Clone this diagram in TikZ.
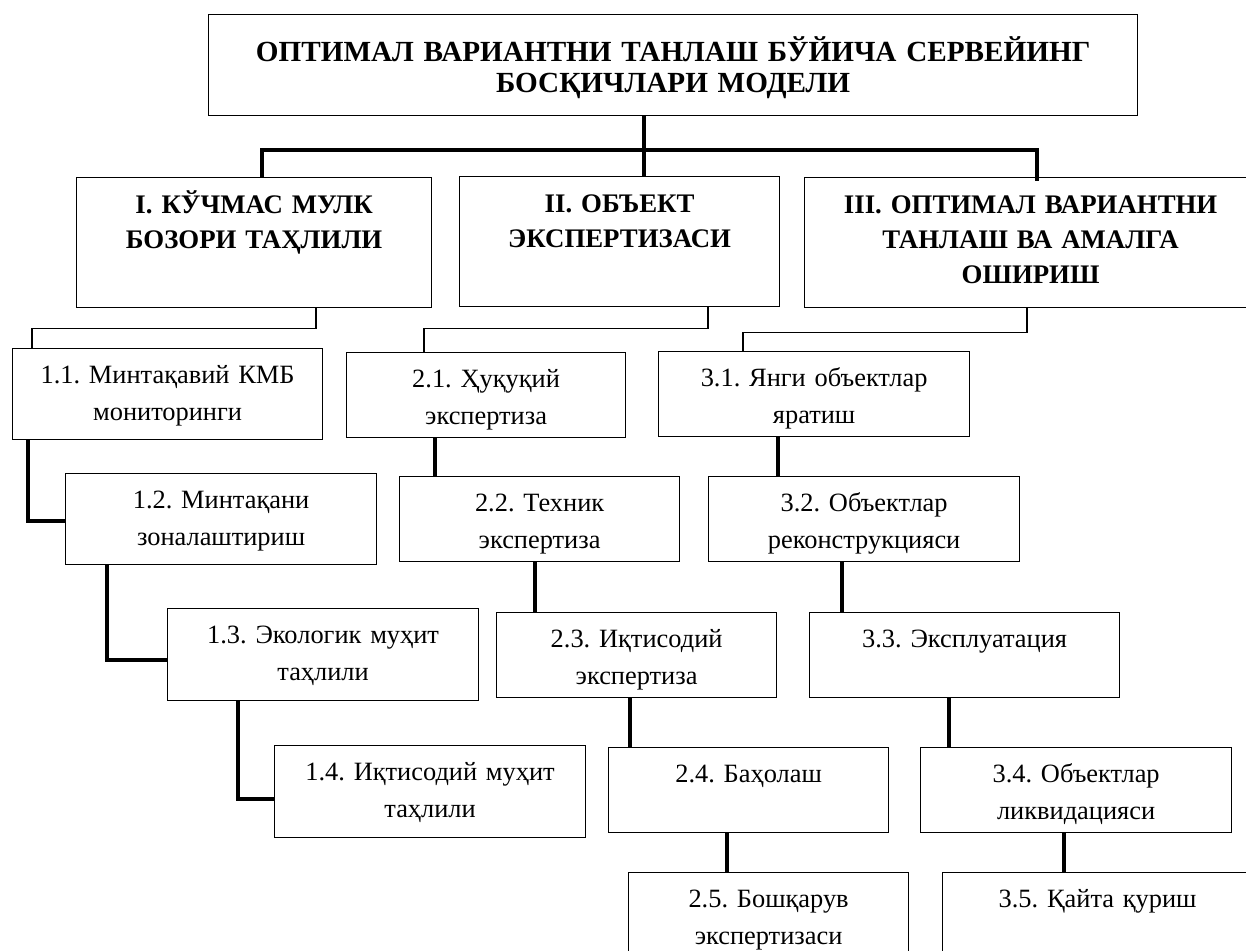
\documentclass[tikz,border=0pt]{standalone}
\usepackage{fontspec}
\setmainfont{Liberation Serif}
\frenchspacing
\begin{document}
\begin{tikzpicture}[x=0.5pt, y=-0.5pt,
    cellbox/.style={draw, line width=0.6pt, anchor=north west, inner sep=0pt, align=center},
    titlebox/.style={cellbox, font=\bfseries\fontsize{14.6}{15.5}\selectfont, text height=23.5pt},
    phasebox/.style={cellbox, font=\bfseries\fontsize{13.4}{17.5}\selectfont, text height=18pt, text depth=47pt},
    stagebox/.style={cellbox, font=\fontsize{13.2}{18.5}\selectfont, text height=17.5pt, text depth=25pt},
    bracket/.style={line width=0.6pt},
    tree/.style={line width=1.8pt},
    link/.style={line width=2pt}]
    \useasboundingbox (0,0) rectangle (1246,951);

    % Model title
    \node[titlebox, text width=464.5pt, text depth=27pt] (model) at (208,14)
        {ОПТИМАЛ ВАРИАНТНИ ТАНЛАШ БЎЙИЧА СЕРВЕЙИНГ\\БОСҚИЧЛАРИ МОДЕЛИ};

    % Phases
    \node[phasebox, text width=177.5pt] (ph1) at (76,177) {I. КЎЧМАС МУЛК\\БОЗОРИ ТАҲЛИЛИ};
    \node[phasebox, text width=160pt] (ph2) at (459,176) {II. ОБЪЕКТ\\ЭКСПЕРТИЗАСИ};
    \node[phasebox, text width=226pt] (ph3) at (804,177) {III. ОПТИМАЛ ВАРИАНТНИ\\ТАНЛАШ ВА АМАЛГА\\ОШИРИШ};

    % Stages of phase I
    \node[stagebox, text width=155pt, text depth=28pt] (st11) at (12,348) {1.1. Минтақавий КМБ\\мониторинги};
    \node[stagebox, text width=155.5pt, text depth=28pt] (st12) at (65,473) {1.2. Минтақани\\зоналаштириш};
    \node[stagebox, text width=155.5pt, text depth=28.5pt] (st13) at (167,608) {1.3. Экологик муҳит\\таҳлили};
    \node[stagebox, text width=155.5pt, text depth=28.5pt] (st14) at (274,745) {1.4. Иқтисодий муҳит\\таҳлили};

    % Stages of phase II
    \node[stagebox, text width=139.5pt] (st21) at (346,352) {2.1. Ҳуқуқий\\экспертиза};
    \node[stagebox, text width=140pt] (st22) at (399,476) {2.2. Техник\\экспертиза};
    \node[stagebox, text width=140pt] (st23) at (496,612) {2.3. Иқтисодий\\экспертиза};
    \node[stagebox, text width=140pt] (st24) at (608,747) {2.4. Баҳолаш};
    \node[stagebox, text width=140pt] (st25) at (628,872) {2.5. Бошқарув\\экспертизаси};

    % Stages of phase III
    \node[stagebox, text width=155.5pt] (st31) at (658,351) {3.1. Янги объектлар\\яратиш};
    \node[stagebox, text width=155.5pt] (st32) at (708,476) {3.2. Объектлар\\реконструкцияси};
    \node[stagebox, text width=155pt] (st33) at (809,612) {3.3. Эксплуатация};
    \node[stagebox, text width=155.5pt] (st34) at (920,747) {3.4. Объектлар\\ликвидацияси};
    \node[stagebox, text width=155pt] (st35) at (942,872) {3.5. Қайта қуриш};

    % Title to phases
    \coordinate (hub) at (644,150);
    \draw[tree] (model.south -| hub) -- (hub);
    \draw[tree] (ph1.north -| 262,0) |- (hub) -| ([yshift=-2pt]ph3.north -| 1037,0);
    \draw[tree] (hub) -- (ph2.north -| hub);

    % Phases to first stages
    \draw[bracket] (ph1.south -| 316,0) -- ++(0,20) -| (st11.north -| 32,0);
    \draw[bracket] (ph2.south -| 708,0) -- ++(0,21) -| (st21.north -| 424,0);
    \draw[bracket] (ph3.south -| 1027,0) -- ++(0,24) -| (st31.north -| 743,0);

    % Phase I chain
    \draw[link] (st11.south -| 28,0) |- ([yshift=-1pt]st12.west);
    \draw[link] (st12.south -| 107,0) |- ([yshift=-2.5pt]st13.west);
    \draw[link] (st13.south -| 238,0) |- ([yshift=-3.5pt]st14.west);

    % Phase II chain
    \draw[link] (st21.south -| 435,0) -- (st22.north -| 435,0);
    \draw[link] (st22.south -| 535,0) -- (st23.north -| 535,0);
    \draw[link] (st23.south -| 630,0) -- (st24.north -| 630,0);
    \draw[link] (st24.south -| 727,0) -- (st25.north -| 727,0);

    % Phase III chain
    \draw[link] (st31.south -| 778,0) -- (st32.north -| 778,0);
    \draw[link] (st32.south -| 842,0) -- (st33.north -| 842,0);
    \draw[link] (st33.south -| 949,0) -- (st34.north -| 949,0);
    \draw[link] (st34.south -| 1064,0) -- (st35.north -| 1064,0);
\end{tikzpicture}
\end{document}
